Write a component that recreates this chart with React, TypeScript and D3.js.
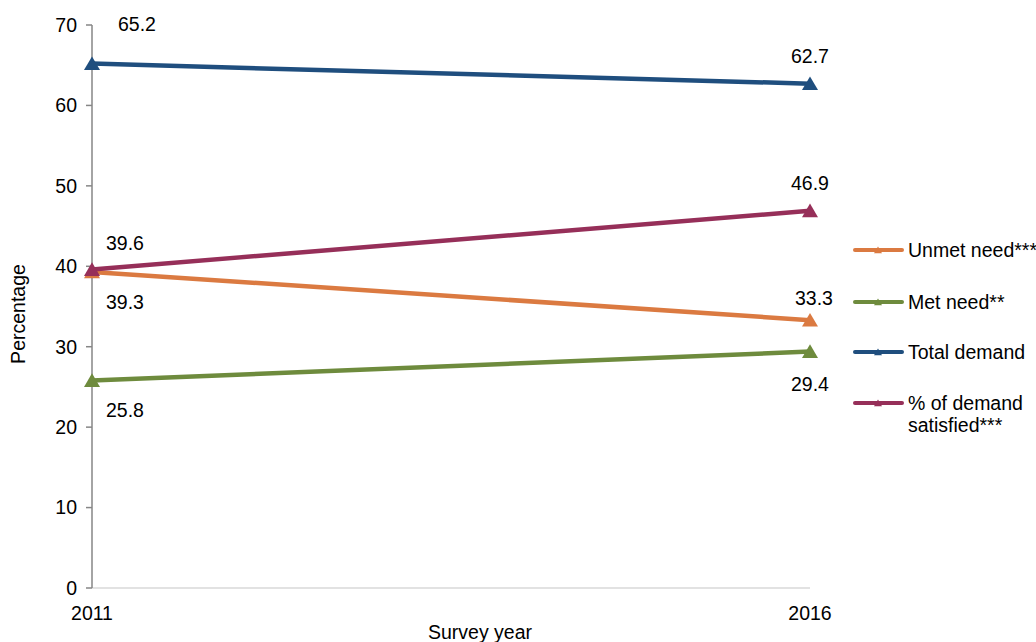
import React from "react";
import * as d3 from "d3";

const years = ["2011", "2016"];
const seriesNames = ["Unmet need***", "Met need**", "Total demand", "% of demand satisfied***"];
const unmetNeed = [39.3, 33.3];
const metNeed = [25.8, 29.4];
const totalDemand = [65.2, 62.7];
const demandSatisfied = [39.6, 46.9];
const yTicks = [0, 10, 20, 30, 40, 50, 60, 70];
const colors = ["#DB7A41", "#6E8B3D", "#1F4E7E", "#962F59"];

// label offsets (dx, dy) relative to point for each series/year
const labelOffsets = [
  [[33, 30], [4, -22]],
  [[33, 30], [0, 33]],
  [[45, -39], [0, -28]],
  [[33, -26], [0, -28]],
];

export default function App() {
  const W = 1036, H = 642;
  const x = d3.scalePoint<string>().domain(years).range([92, 810]);
  const y = d3.scaleLinear().domain([0, 70]).range([588, 25]);
  const data = [unmetNeed, metNeed, totalDemand, demandSatisfied];
  const line = d3.line<number>().x((_, i) => x(years[i])!).y((d) => y(d));
  const font = "Liberation Sans, Arial, sans-serif";
  const fs = 19.5;
  const tri = (cx: number, cy: number, s: number) =>
    `M${cx - s},${cy + s * 0.8}L${cx + s},${cy + s * 0.8}L${cx},${cy - s * 0.9}Z`;
  const drawOrder = [1, 0, 3, 2];
  const legendY = [250, 302, 352, 403];

  return (
    <svg width={W} height={H} style={{ position: "absolute", left: 0, top: 0 }} fontFamily={font}>
      <rect width={W} height={H} fill="white" />
      {/* x axis */}
      <line x1={92} x2={810} y1={588} y2={588} stroke="#d9d9d9" strokeWidth={1.5} />
      {/* y axis */}
      <line x1={92} x2={92} y1={25} y2={588} stroke="#868686" strokeWidth={1.5} />
      {yTicks.map((t) => (
        <g key={t}>
          <line x1={86} x2={92} y1={y(t)} y2={y(t)} stroke="#868686" strokeWidth={1.5} />
          <text x={77} y={y(t)} dy="0.35em" textAnchor="end" fontSize={fs} fill="#000">
            {t}
          </text>
        </g>
      ))}
      {years.map((yr) => (
        <text key={yr} x={x(yr)} y={620} textAnchor="middle" fontSize={fs}>
          {yr}
        </text>
      ))}
      <text x={480} y={639} textAnchor="middle" fontSize={fs}>Survey year</text>
      <text transform="translate(25,314) rotate(-90)" textAnchor="middle" fontSize={fs}>Percentage</text>
      {drawOrder.map((si) => (
        <g key={si}>
          <path d={line(data[si])!} fill="none" stroke={colors[si]} strokeWidth={4.5} />
          {data[si].map((v, i) => (
            <path key={i} d={tri(x(years[i])!, y(v), 8)} fill={colors[si]} />
          ))}
        </g>
      ))}
      {data.map((vals, si) =>
        vals.map((v, i) => (
          <text
            key={`${si}-${i}`}
            x={x(years[i])! + labelOffsets[si][i][0]}
            y={y(v) + labelOffsets[si][i][1]}
            dy="0.35em"
            textAnchor="middle"
            fontSize={fs}
          >
            {v.toFixed(1)}
          </text>
        ))
      )}
      {/* legend */}
      {seriesNames.map((n, si) => (
        <g key={n}>
          <line x1={855} x2={902} y1={legendY[si]} y2={legendY[si]} stroke={colors[si]} strokeWidth={4} strokeLinecap="round" />
          <path d={tri(878, legendY[si], 4)} fill={colors[si]} />
          {si === 3 ? (
            <text x={908} y={legendY[si]} dy="0.35em" fontSize={fs}>
              <tspan x={908}>% of demand</tspan>
              <tspan x={908} dy={22}>satisfied***</tspan>
            </text>
          ) : (
            <text x={908} y={legendY[si]} dy="0.35em" fontSize={fs}>{n}</text>
          )}
        </g>
      ))}
    </svg>
  );
}
